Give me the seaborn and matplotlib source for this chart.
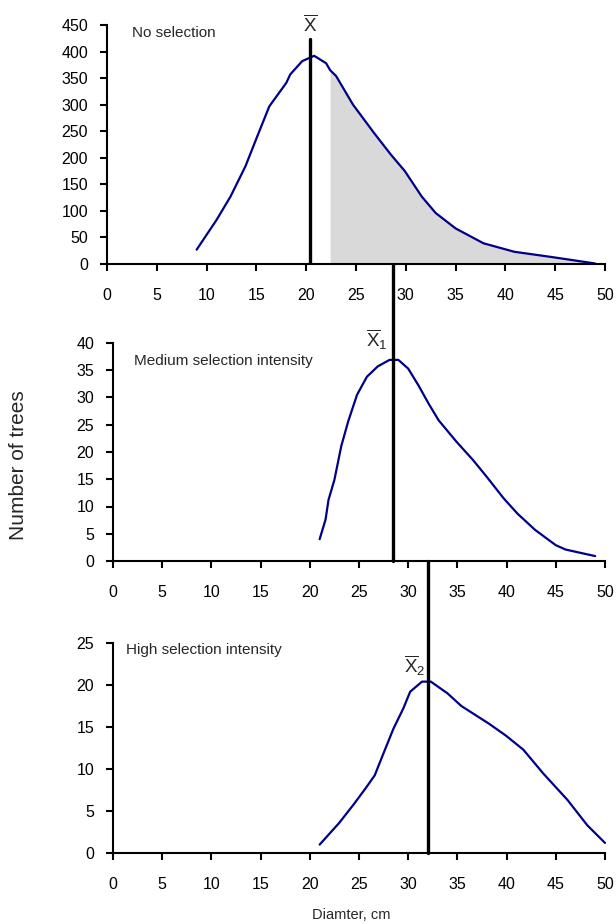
import numpy as np
import pandas as pd
import matplotlib
matplotlib.use("Agg")
import matplotlib.pyplot as plt
import seaborn as sns

# ---------------- data ----------------
no_sel_x = [9, 11, 12.4, 13.9, 15.1, 16.3, 18.0, 18.4, 19.6, 20.8, 22.0, 22.4, 23.0,
            24.7, 26.8, 28.5, 29.9, 31.6, 33.0, 35.0, 37.8, 40.9, 44.7, 49.0]
no_sel_y = [27, 83, 127, 184, 241, 297, 341, 357, 382, 392, 378, 365, 354,
            300, 247, 206, 175, 127, 96, 67, 39, 23, 13, 1]

med_x = [21.0, 21.6, 21.9, 22.5, 23.2, 23.9, 24.8, 25.8, 26.9, 28.1, 29.0, 30.0,
         31.05, 32.1, 33.1, 34.9, 36.6, 38.0, 39.7, 41.1, 42.9, 45.0, 46.0, 49.0]
med_y = [4.0, 7.6, 11.2, 14.9, 21.1, 25.6, 30.5, 33.8, 35.7, 36.9, 36.9, 35.3,
         32.2, 28.8, 25.8, 21.9, 18.5, 15.4, 11.5, 8.7, 5.7, 2.9, 2.1, 0.9]

high_x = [21.0, 23.0, 24.5, 25.7, 26.6, 27.5, 28.5, 29.5, 30.2, 31.4, 32.3, 34.0,
          35.4, 38.2, 39.9, 41.7, 43.7, 46.2, 48.2, 50.0]
high_y = [1.0, 3.6, 5.85, 7.75, 9.25, 11.9, 14.8, 17.2, 19.2, 20.4, 20.4, 19.0,
          17.5, 15.4, 14.0, 12.3, 9.5, 6.3, 3.3, 1.2]

means = [20.43, 28.5, 32.0]           # mean diameters (X, X1, X2)
shade_from = 22.4                     # shaded tail start (no selection)

panel_titles = ["No selection", "Medium selection intensity", "High selection intensity"]
mean_labels = [r"$\overline{\mathrm{X}}$", r"$\overline{\mathrm{X}}_1$", r"$\overline{\mathrm{X}}_2$"]
y_limits = [450, 40, 25]
y_steps = [50, 5, 5]
x_ticks = list(range(0, 55, 5))

# ---------------- style ----------------
sns.set_style("ticks")
plt.rcParams['font.family'] = ['Liberation Sans', 'DejaVu Sans']
plt.rcParams['mathtext.fontset'] = 'custom'
plt.rcParams['mathtext.rm'] = 'Liberation Sans'
plt.rcParams['mathtext.it'] = 'Liberation Sans'

curve_color = "#000088"
fill_color = "#d9d9d9"

fig = plt.figure(figsize=(6.16, 9.24), dpi=100)
W, H = 616, 924

def add_ax(left, right, bottom, top):
    return fig.add_axes([left / W, 1 - bottom / H, (right - left) / W, (bottom - top) / H])

ax1 = add_ax(107, 605, 264, 25)
ax2 = add_ax(113, 605, 561, 343)
ax3 = add_ax(113, 605, 853, 643)
axes = [ax1, ax2, ax3]

datasets = [(no_sel_x, no_sel_y), (med_x, med_y), (high_x, high_y)]

for ax, (xs, ys), ylim, ystep in zip(axes, datasets, y_limits, y_steps):
    df = pd.DataFrame({"x": xs, "y": ys})
    sns.lineplot(data=df, x="x", y="y", ax=ax, color=curve_color, linewidth=1.6,
                 clip_on=False)
    ax.set_xlim(0, 50)
    ax.set_ylim(0, ylim)
    ax.set_xticks(x_ticks)
    ax.set_yticks(list(range(0, ylim + 1, ystep)))
    ax.set_xlabel("")
    ax.set_ylabel("")
    ax.tick_params(direction="out", length=5, width=1.5, labelsize=11.5,
                   colors="black")
    ax.tick_params(axis="x", pad=12)
    ax.tick_params(axis="y", pad=8.5)
    for s in ["left", "bottom"]:
        ax.spines[s].set_linewidth(1.5)
        ax.spines[s].set_color("black")
    sns.despine(ax=ax)
    ax.set_facecolor("none")

# shaded tail of the no-selection distribution
xa = np.array(no_sel_x)
ya = np.array(no_sel_y)
ax1.fill_between(xa, ya, 0, where=xa >= shade_from, color=fill_color, zorder=0,
                 linewidth=0)
ax1.set_zorder(3)

# mean lines
ax1.plot([means[0], means[0]], [0, 423], color="black", linewidth=2.4, zorder=5)
ax2.plot([means[1], means[1]], [0, 54.5], color="black", linewidth=2.4,
         clip_on=False, zorder=5)
ax3.plot([means[2], means[2]], [0, 34.8], color="black", linewidth=2.4,
         clip_on=False, zorder=5)

# panel titles
ax1.text(2.5, 427.4, panel_titles[0], fontsize=11, ha="left", va="baseline")
ax2.text(2.1, 36.0, panel_titles[1], fontsize=11, ha="left", va="baseline")
ax3.text(1.3, 23.7, panel_titles[2], fontsize=11, ha="left", va="baseline")

# mean labels
ax1.text(19.7, 438.7, mean_labels[0], fontsize=13.5, ha="left", va="baseline", clip_on=False)
ax2.text(25.7, 39.3, mean_labels[1], fontsize=13.5, ha="left", va="baseline", clip_on=False)
ax3.text(29.6, 21.4, mean_labels[2], fontsize=13.5, ha="left", va="baseline", clip_on=False)

# shared axis labels
fig.text(19 / W, 1 - 465 / H, "Number of trees", rotation=90, fontsize=15,
         ha="center", va="center")
fig.text(351 / W, 1 - 915 / H, "Diamter, cm", fontsize=10.5, ha="center", va="center")

fig.savefig("out.png", dpi=100)
